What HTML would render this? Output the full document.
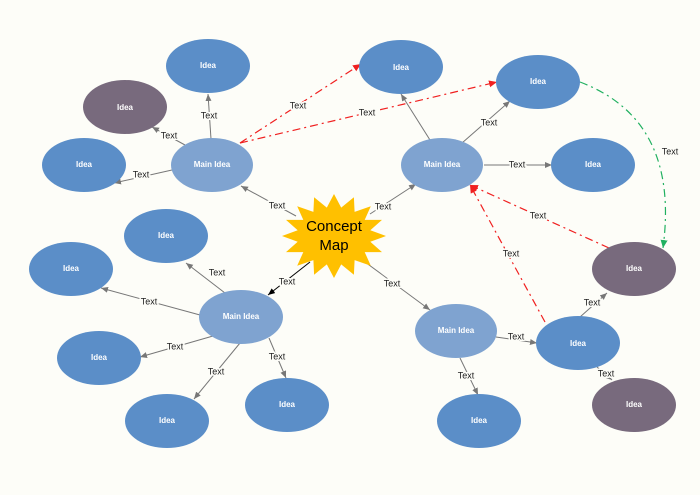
<!DOCTYPE html>
<html><head><meta charset="utf-8"><style>
html,body{margin:0;padding:0;background:#fdfdf8;}
svg{display:block;}
text{font-family:"Liberation Sans",sans-serif;}
.t{font-size:9px;fill:#222;text-anchor:middle;dominant-baseline:middle;paint-order:stroke;stroke:#fdfdf8;stroke-width:3px;}
.n{font-size:8px;fill:#fff;text-anchor:middle;dominant-baseline:middle;font-weight:bold;}
</style></head><body>
<svg width="700" height="495" viewBox="0 0 700 495" xmlns="http://www.w3.org/2000/svg">
<defs>
<marker id="ag" markerWidth="8" markerHeight="8" refX="7" refY="3" orient="auto" markerUnits="userSpaceOnUse"><path d="M0,0 L7,3 L0,6z" fill="#777"/></marker>
<marker id="ak" markerWidth="8" markerHeight="8" refX="7" refY="3" orient="auto" markerUnits="userSpaceOnUse"><path d="M0,0 L7,3 L0,6z" fill="#000"/></marker>
<marker id="ar" markerWidth="9" markerHeight="9" refX="8" refY="3.5" orient="auto" markerUnits="userSpaceOnUse"><path d="M0,0 L8,3.5 L0,7z" fill="#f02020"/></marker>
<marker id="agr" markerWidth="9" markerHeight="9" refX="8" refY="3.5" orient="auto" markerUnits="userSpaceOnUse"><path d="M0,0 L8,3.5 L0,7z" fill="#20b060"/></marker>
</defs>
<rect width="700" height="495" fill="#fdfdf8"/>
<g stroke="#777" stroke-width="1" fill="none" marker-end="url(#ag)">
<line x1="211" y1="139" x2="208" y2="94"/>
<line x1="185" y1="145" x2="152" y2="127"/>
<line x1="172" y1="170" x2="114" y2="183"/>
<line x1="296" y1="216" x2="241" y2="186"/>
<line x1="370" y1="214" x2="416" y2="184"/>
<line x1="430" y1="140" x2="401" y2="94"/>
<line x1="462" y1="143" x2="510" y2="101"/>
<line x1="484" y1="165" x2="552" y2="165"/>
<line x1="225" y1="293" x2="186" y2="263"/>
<line x1="200" y1="315" x2="101" y2="288"/>
<line x1="213" y1="336" x2="140" y2="357"/>
<line x1="240" y1="343" x2="194" y2="399"/>
<line x1="269" y1="338" x2="286" y2="378"/>
<line x1="365" y1="262" x2="430" y2="310"/>
<line x1="460" y1="358" x2="478" y2="395"/>
<line x1="496" y1="337" x2="537" y2="343"/>
<line x1="580" y1="317" x2="607" y2="293"/>
<line x1="597" y1="367" x2="612" y2="380"/>
</g>
<line x1="310" y1="262" x2="268" y2="295" stroke="#000" stroke-width="1" marker-end="url(#ak)"/>
<g stroke="#f02020" stroke-width="1.2" fill="none" stroke-dasharray="8,4,2,4" marker-end="url(#ar)">
<line x1="240" y1="143" x2="361" y2="64"/>
<line x1="240" y1="143" x2="497" y2="82"/>
<line x1="609" y1="248" x2="470" y2="185"/>
<line x1="545" y1="322" x2="470" y2="185"/>
</g>
<path d="M580,82 Q680,120 663,248" stroke="#20b060" stroke-width="1.2" fill="none" stroke-dasharray="8,4,2,4" marker-end="url(#agr)"/>
<g>
<ellipse cx="208" cy="66" rx="42" ry="27" fill="#5b8ec8"/>
<ellipse cx="125" cy="107" rx="42" ry="27" fill="#786a7d"/>
<ellipse cx="84" cy="165" rx="42" ry="27" fill="#5b8ec8"/>
<ellipse cx="401" cy="67" rx="42" ry="27" fill="#5b8ec8"/>
<ellipse cx="538" cy="82" rx="42" ry="27" fill="#5b8ec8"/>
<ellipse cx="593" cy="165" rx="42" ry="27" fill="#5b8ec8"/>
<ellipse cx="634" cy="269" rx="42" ry="27" fill="#786a7d"/>
<ellipse cx="578" cy="343" rx="42" ry="27" fill="#5b8ec8"/>
<ellipse cx="634" cy="405" rx="42" ry="27" fill="#786a7d"/>
<ellipse cx="166" cy="236" rx="42" ry="27" fill="#5b8ec8"/>
<ellipse cx="71" cy="269" rx="42" ry="27" fill="#5b8ec8"/>
<ellipse cx="99" cy="358" rx="42" ry="27" fill="#5b8ec8"/>
<ellipse cx="167" cy="421" rx="42" ry="27" fill="#5b8ec8"/>
<ellipse cx="287" cy="405" rx="42" ry="27" fill="#5b8ec8"/>
<ellipse cx="479" cy="421" rx="42" ry="27" fill="#5b8ec8"/>
<ellipse cx="212" cy="165" rx="41" ry="27" fill="#7fa3d0"/>
<ellipse cx="442" cy="165" rx="41" ry="27" fill="#7fa3d0"/>
<ellipse cx="241" cy="317" rx="42" ry="27" fill="#7fa3d0"/>
<ellipse cx="456" cy="331" rx="41" ry="27" fill="#7fa3d0"/>
</g>
<polygon fill="#ffc000" points="386,236 370.3,241.7 382,252.1 364.7,252.1 370.8,265.7 354.6,260.1 353.9,274.8 341.2,264.4 334,278 326.8,264.4 314.1,274.8 313.4,260.1 297.2,265.7 303.3,252.1 286,252.1 297.7,241.7 282,236 297.7,230.3 286,219.9 303.3,219.9 297.2,206.3 313.4,211.9 314.1,197.2 326.8,207.6 334,194 341.2,207.6 353.9,197.2 354.6,211.9 370.8,206.3 364.7,219.9 382,219.9 370.3,230.3"/>
<text x="334" y="227" font-size="15" text-anchor="middle" dominant-baseline="middle" fill="#000">Concept</text>
<text x="334" y="246" font-size="15" text-anchor="middle" dominant-baseline="middle" fill="#000">Map</text>
<g>
<text class="n" x="208" y="66">Idea</text>
<text class="n" x="125" y="108">Idea</text>
<text class="n" x="84" y="165">Idea</text>
<text class="n" x="401" y="68">Idea</text>
<text class="n" x="538" y="82">Idea</text>
<text class="n" x="593" y="165">Idea</text>
<text class="n" x="634" y="269">Idea</text>
<text class="n" x="578" y="344">Idea</text>
<text class="n" x="634" y="405">Idea</text>
<text class="n" x="166" y="236">Idea</text>
<text class="n" x="71" y="269">Idea</text>
<text class="n" x="99" y="358">Idea</text>
<text class="n" x="167" y="421">Idea</text>
<text class="n" x="287" y="405">Idea</text>
<text class="n" x="479" y="421">Idea</text>
<text class="n" x="212" y="165">Main Idea</text>
<text class="n" x="442" y="165">Main Idea</text>
<text class="n" x="241" y="317">Main Idea</text>
<text class="n" x="456" y="331">Main Idea</text>
</g>
<g>
<text class="t" x="209" y="116">Text</text>
<text class="t" x="169" y="136">Text</text>
<text class="t" x="141" y="175">Text</text>
<text class="t" x="277" y="206">Text</text>
<text class="t" x="383" y="207">Text</text>
<text class="t" x="489" y="123">Text</text>
<text class="t" x="517" y="165">Text</text>
<text class="t" x="287" y="282">Text</text>
<text class="t" x="217" y="273">Text</text>
<text class="t" x="149" y="302">Text</text>
<text class="t" x="175" y="347">Text</text>
<text class="t" x="216" y="372">Text</text>
<text class="t" x="277" y="357">Text</text>
<text class="t" x="392" y="284">Text</text>
<text class="t" x="466" y="376">Text</text>
<text class="t" x="516" y="337">Text</text>
<text class="t" x="592" y="303">Text</text>
<text class="t" x="606" y="374">Text</text>
<text class="t" x="298" y="106">Text</text>
<text class="t" x="367" y="113">Text</text>
<text class="t" x="538" y="216">Text</text>
<text class="t" x="511" y="254">Text</text>
<text class="t" x="670" y="152">Text</text>
</g>
</svg>
</body></html>
